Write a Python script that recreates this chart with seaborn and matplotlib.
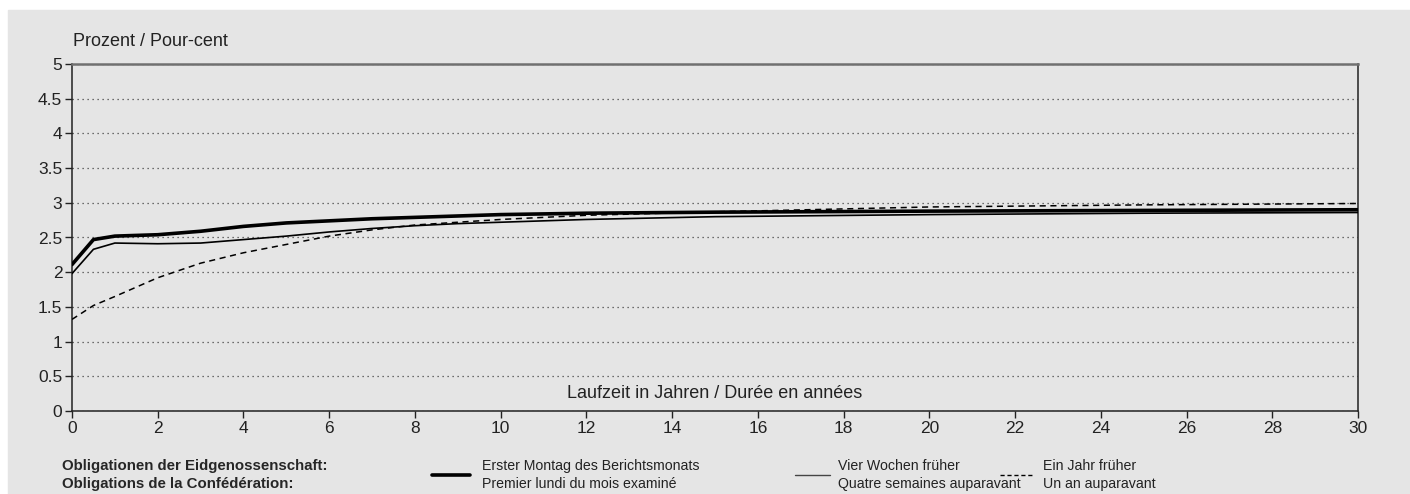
import matplotlib
matplotlib.use("Agg")
import matplotlib.pyplot as plt
import seaborn as sns
import pandas as pd
from matplotlib.lines import Line2D
from matplotlib.patches import Rectangle

# Zinssätze nach Laufzeit (Jahre)
maturity = [0, 0.5, 1, 2, 3, 4, 5, 6, 7, 8, 9, 10, 12, 15, 20, 25, 30]
first_monday = [2.11, 2.47, 2.52, 2.54, 2.59, 2.66, 2.71, 2.74, 2.77, 2.79, 2.81, 2.83, 2.85, 2.865, 2.88, 2.89, 2.90]
four_weeks = [1.98, 2.33, 2.42, 2.41, 2.42, 2.47, 2.52, 2.58, 2.63, 2.67, 2.70, 2.72, 2.76, 2.80, 2.83, 2.85, 2.86]
one_year = [1.32, 1.52, 1.65, 1.92, 2.13, 2.28, 2.40, 2.52, 2.61, 2.68, 2.72, 2.76, 2.82, 2.87, 2.94, 2.97, 2.99]

labels_de = ['Erster Montag des Berichtsmonats', 'Vier Wochen früher', 'Ein Jahr früher']
labels_fr = ['Premier lundi du mois examiné', 'Quatre semaines auparavant', 'Un an auparavant']
y_ticks = [0, 0.5, 1, 1.5, 2, 2.5, 3, 3.5, 4, 4.5, 5]
y_ticklabels = ['0', '0.5', '1', '1.5', '2', '2.5', '3', '3.5', '4', '4.5', '5']
x_ticks = list(range(0, 31, 2))

df = pd.DataFrame({'Laufzeit': maturity, 'first': first_monday,
                   'four': four_weeks, 'year': one_year})

bg = '#e5e5e5'
txt = '#222222'
sns.set_style('ticks')
plt.rcParams['font.family'] = ['Liberation Sans', 'DejaVu Sans']

W, H = 1410, 494
fig = plt.figure(figsize=(W / 100, H / 100), dpi=100)
panel = Rectangle((8 / W, 0), 1, 484 / H, transform=fig.transFigure,
                  color=bg, zorder=-10)
fig.add_artist(panel)
ax = fig.add_axes([72 / W, 1 - 411 / H, (1358 - 72) / W, (411 - 64) / H])
ax.set_zorder(1)
ax.set_facecolor(bg)

# Linien
sns.lineplot(data=df, x='Laufzeit', y='year', ax=ax, color='black', lw=1.1,
             linestyle=(0, (4, 3)), zorder=3)
sns.lineplot(data=df, x='Laufzeit', y='four', ax=ax, color='black', lw=1.2, zorder=4)
sns.lineplot(data=df, x='Laufzeit', y='first', ax=ax, color='black', lw=2.6, zorder=5)

ax.set_xlim(0, 30)
ax.set_ylim(0, 5)
ax.set_xticks(x_ticks)
ax.set_yticks(y_ticks)
ax.set_yticklabels(y_ticklabels)
ax.set_xlabel('')
ax.set_ylabel('')
ax.yaxis.grid(True, linestyle=(0, (1, 3)), color='#444444', lw=0.9)
ax.set_axisbelow(True)
ax.tick_params(axis='both', direction='out', length=5, width=1, labelsize=12.5,
               pad=2, colors=txt)

for s in ['left', 'bottom', 'right']:
    ax.spines[s].set_visible(True)
    ax.spines[s].set_color(txt)
    ax.spines[s].set_linewidth(1.1)
ax.spines['top'].set_visible(True)
ax.spines['top'].set_color('#707070')
ax.spines['top'].set_linewidth(1.8)

ax.text(0.5, (411 - 393) / (411 - 64), 'Laufzeit in Jahren / Durée en années',
        transform=ax.transAxes, ha='center', va='center', fontsize=13, color=txt)
fig.text(73 / W, 1 - 42 / H, 'Prozent / Pour-cent', va='center', fontsize=13,
         color=txt)

# Legende unten
fig.text(62 / W, 1 - 466 / H, 'Obligationen der Eidgenossenschaft:', va='center',
         fontsize=10.8, fontweight='bold')
fig.text(62 / W, 1 - 484 / H, 'Obligations de la Confédération:', va='center',
         fontsize=10.8, fontweight='bold')

handles = [
    (432, 470, dict(lw=2.6, linestyle='-')),
    (795, 830, dict(lw=1.0, linestyle='-', color='#444444')),
    (1000, 1034, dict(lw=1.0, linestyle=(0, (3, 2)))),
]
text_x = [482, 838, 1043]
for (x0, x1, kw), tx, de, fr in zip(handles, text_x, labels_de, labels_fr):
    kw.setdefault('color', 'black')
    fig.add_artist(Line2D([x0 / W, x1 / W], [1 - 475 / H] * 2,
                          transform=fig.transFigure, **kw))
    fig.text(tx / W, 1 - 466 / H, de, va='center', fontsize=10.2, color=txt)
    fig.text(tx / W, 1 - 484 / H, fr, va='center', fontsize=10.2, color=txt)

fig.savefig('out.png', dpi=100, facecolor='white')
